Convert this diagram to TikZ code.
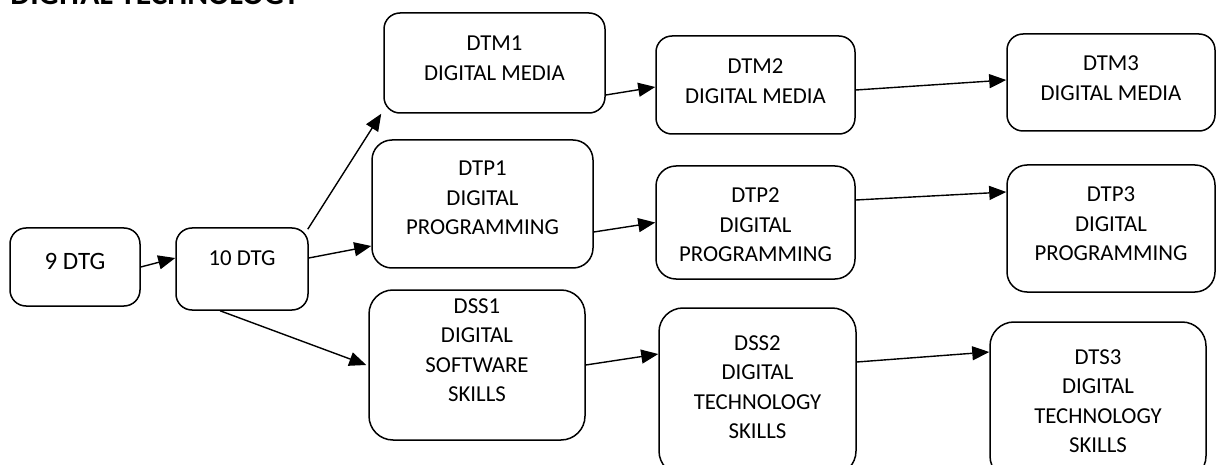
\documentclass[tikz,border=0pt]{standalone}
\usepackage{fontspec}
\setmainfont{Carlito}
\usetikzlibrary{arrows.meta}
\begin{document}
\begin{tikzpicture}[x=0.5pt,y=-0.5pt,
  box/.style={draw=black, line width=0.75pt, rounded corners=8pt, inner sep=0pt},
  txt/.style={align=center, inner sep=0pt, font=\fontsize{11.4}{14.75}\selectfont},
  conn/.style={draw=black, line width=0.7pt, -{Triangle[length=8.5pt,width=7pt]}},
  ttl/.style={anchor=base west, inner sep=0pt, font=\fontsize{15.8}{18}\selectfont\bfseries}]
\clip (0,0) rectangle (1217,465);
\fill[white] (0,0) rectangle (1217,465);
\node[ttl] (title) at (10,4.5) {DIGITAL TECHNOLOGY};
% boxes
\node[box, minimum width=65pt, minimum height=39pt] (n9) at (75,267) {};
\node[box, minimum width=66pt, minimum height=41pt] (n10) at (242,269) {};
\node[box, minimum width=110.5pt, minimum height=50pt] (dtm1) at (494.5,63) {};
\node[box, minimum width=99.5pt, minimum height=49pt] (dtm2) at (755.5,85) {};
\node[box, minimum width=104pt, minimum height=48.5pt] (dtm3) at (1111,82.5) {};
\node[box, minimum width=110.5pt, minimum height=64pt, rounded corners=10pt] (dtp1) at (482.5,204) {};
\node[box, minimum width=99.5pt, minimum height=56.5pt, rounded corners=10pt] (dtp2) at (755.5,222.5) {};
\node[box, minimum width=104pt, minimum height=63.5pt, rounded corners=10pt] (dtp3) at (1111,228.5) {};
\node[box, minimum width=108pt, minimum height=75pt, rounded corners=12pt] (dss1) at (477,365) {};
\node[box, minimum width=98.5pt, minimum height=83.5pt, rounded corners=12pt] (dss2) at (757.5,391.5) {};
\node[box, minimum width=108pt, minimum height=79pt, rounded corners=12pt] (dts3) at (1098,401) {};
% texts
\node[txt, font=\fontsize{12.5}{15}\selectfont] (t9) at (75,261) {9 DTG};
\node[txt] (t10) at (242,258) {10 DTG};
\node[txt] (tdtm1) at (494.5,58) {DTM1\\DIGITAL MEDIA};
\node[txt] (tdtm2) at (755.5,81) {DTM2\\DIGITAL MEDIA};
\node[txt] (tdtm3) at (1111,78) {DTM3\\DIGITAL MEDIA};
\node[txt] (tdtp1) at (482.5,198) {DTP1\\DIGITAL\\PROGRAMMING};
\node[txt] (tdtp2) at (755.5,225) {DTP2\\DIGITAL\\PROGRAMMING};
\node[txt] (tdtp3) at (1111,224) {DTP3\\DIGITAL\\PROGRAMMING};
\node[txt] (tdss1) at (477,350) {DSS1\\DIGITAL\\SOFTWARE\\SKILLS};
\node[txt] (tdss2) at (757.5,387) {DSS2\\DIGITAL\\TECHNOLOGY\\SKILLS};
\node[txt] (tdts3) at (1098,401) {DTS3\\DIGITAL\\TECHNOLOGY\\SKILLS};
% connectors
\draw[conn] (n9.east) -- ([yshift=5.5pt]n10.west);
\draw[conn] ([xshift=-0.5pt,yshift=-1pt]n10.north east) -- ([xshift=-1pt]dtm1.south west);
\draw[conn] ([yshift=5.5pt]n10.east) -- ([yshift=-21pt]dtp1.west);
\draw[conn] ([xshift=-11pt]n10.south) -- ([xshift=-1pt]dss1.west);
\draw[conn] ([yshift=-16pt]dtm1.east) -- ([yshift=-1pt]dtm2.west);
\draw[conn] ([yshift=-2.5pt]dtm2.east) -- ([yshift=1.25pt]dtm3.west);
\draw[conn] ([yshift=-14pt]dtp1.east) -- (dtp2.west);
\draw[conn] ([yshift=11.25pt]dtp2.east) -- ([yshift=18.25pt]dtp3.west);
\draw[conn] (dss1.east) -- ([yshift=18.75pt]dss2.west);
\draw[conn] ([yshift=14.75pt]dss2.east) -- ([yshift=24.5pt]dts3.west);
\end{tikzpicture}
\end{document}
